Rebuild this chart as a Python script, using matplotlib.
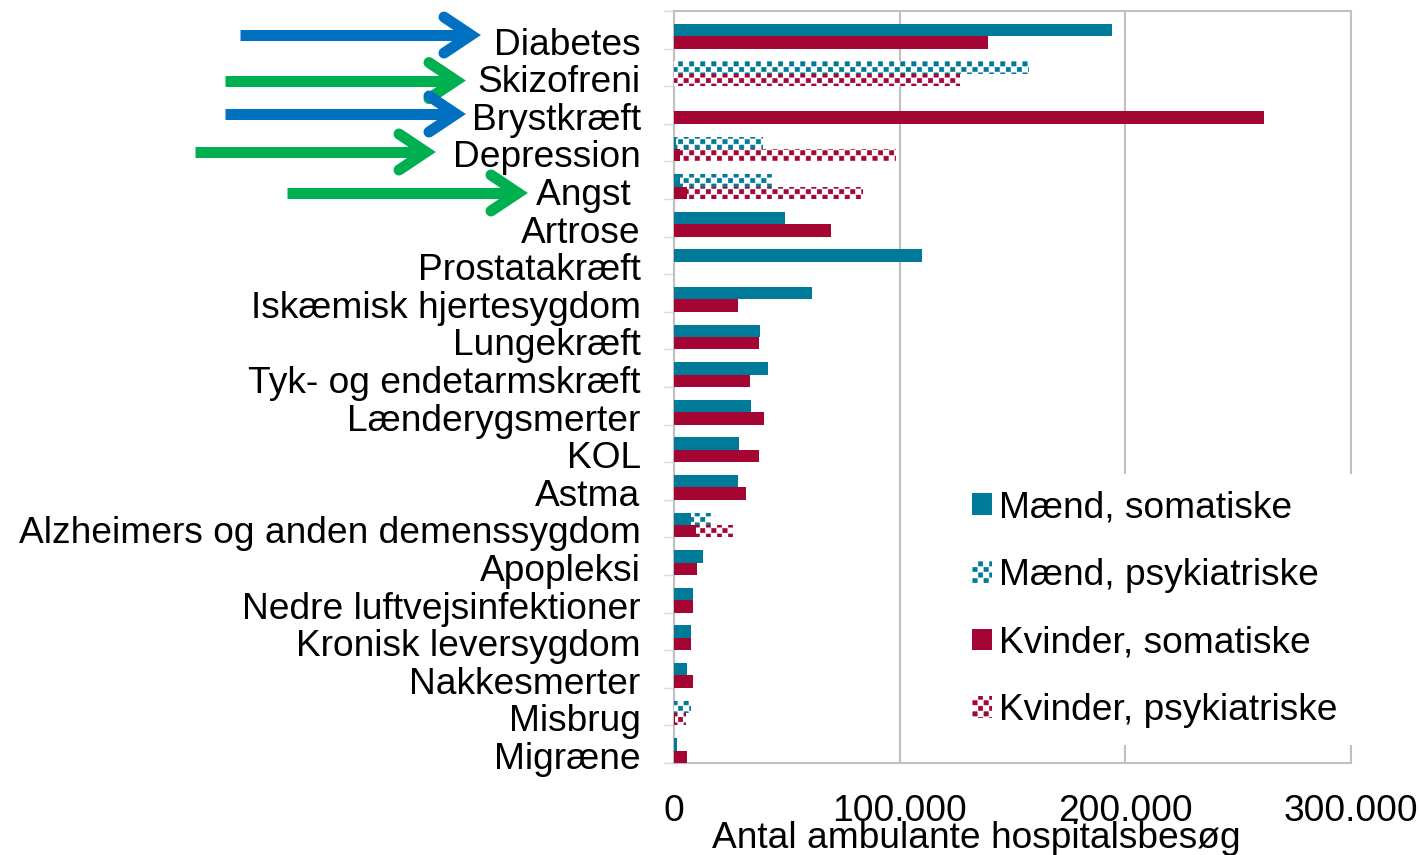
import numpy as np
import matplotlib
matplotlib.use("Agg")
import matplotlib.pyplot as plt
import matplotlib.hatch as mhatch
from matplotlib.path import Path
from matplotlib.lines import Line2D
from matplotlib.patches import Patch

# ---------------- data ----------------
categories = ["Diabetes", "Skizofreni", "Brystkræft", "Depression", "Angst ",
              "Artrose", "Prostatakræft", "Iskæmisk hjertesygdom", "Lungekræft",
              "Tyk- og endetarmskræft", "Lænderygsmerter", "KOL", "Astma",
              "Alzheimers og anden demenssygdom", "Apopleksi",
              "Nedre luftvejsinfektioner", "Kronisk leversygdom", "Nakkesmerter",
              "Misbrug", "Migræne"]
maend_somatiske = [194000, 0, 0, 1000, 2800, 49000, 110000, 61000, 38000, 41500,
                   34000, 28800, 28400, 7500, 13000, 8600, 7500, 5900, 0, 1300]
maend_psykiatriske = [0, 157400, 0, 38400, 40800, 0, 0, 0, 0, 0,
                      0, 0, 0, 8900, 0, 0, 0, 0, 7700, 0]
kvinder_somatiske = [139000, 0, 261600, 2500, 5600, 69600, 0, 28400, 37700, 33700,
                     39900, 37700, 31900, 9800, 10000, 8400, 7500, 8400, 400, 5800]
kvinder_psykiatriske = [0, 126800, 0, 95900, 78100, 0, 0, 0, 0, 0,
                        0, 0, 0, 16200, 0, 0, 0, 0, 4800, 0]
series_labels = ["Mænd, somatiske", "Mænd, psykiatriske",
                 "Kvinder, somatiske", "Kvinder, psykiatriske"]
xticks = [0, 100000, 200000, 300000]
xtick_labels = ["0", "100.000", "200.000", "300.000"]
xlabel = "Antal ambulante hospitalsbesøg"
arrow_categories = ["Diabetes", "Skizofreni", "Brystkræft", "Depression", "Angst "]
arrow_kinds = ["blue", "green", "blue", "green", "green"]

# ---------------- style ----------------
TEAL = "#007A99"
RED = "#A50533"
BLUE = "#0070C0"
GREEN = "#00B050"
GRID = "#C0C0C0"
FS = 26.7

plt.rcParams["font.family"] = ["Liberation Sans", "DejaVu Sans"]
plt.rcParams["hatch.linewidth"] = 0.4


# checkerboard hatch (replaces the '*' pattern)
class CheckerHatch(mhatch.HatchPatternBase):
    def __init__(self, hatch, density):
        self.n = 18 if "*" in hatch else 0
        self.num_vertices = (self.n * self.n // 2) * 5

    def set_vertices_and_codes(self, vertices, codes):
        c = 1.0 / self.n
        s = 0.78 * c
        verts = []
        for i in range(self.n):
            for j in range(self.n):
                if (i + j) % 2 == 0:
                    x0 = i * c + (c - s) / 2
                    y0 = j * c + (c - s) / 2
                    verts += [(x0, y0), (x0 + s, y0), (x0 + s, y0 + s),
                              (x0, y0 + s), (x0, y0)]
        vertices[:] = np.array(verts)
        nsq = len(verts) // 5
        codes[:] = np.tile([Path.MOVETO, Path.LINETO, Path.LINETO,
                            Path.LINETO, Path.CLOSEPOLY], nsq)


mhatch._hatch_types = [t for t in mhatch._hatch_types
                       if t is not mhatch.Stars] + [CheckerHatch]

fig = plt.figure(figsize=(14.22, 8.55), dpi=100)
W, H = 1422, 855
ax_l, ax_r, ax_t, ax_b = 674, 1351, 11, 763
ax = fig.add_axes([ax_l / W, 1 - ax_b / H, (ax_r - ax_l) / W, (ax_b - ax_t) / H])

n = len(categories)
y = np.arange(n)
h = 0.33
y_m = y + 0.005
y_k = y + 0.335

ax.barh(y_m, maend_somatiske, height=h, color=TEAL, linewidth=0, zorder=3)
ax.barh(y_m, maend_psykiatriske, left=maend_somatiske, height=h, color="white",
        edgecolor=TEAL, hatch="*", linewidth=0, zorder=3)
ax.barh(y_k, kvinder_somatiske, height=h, color=RED, linewidth=0, zorder=3)
ax.barh(y_k, kvinder_psykiatriske, left=kvinder_somatiske, height=h, color="white",
        edgecolor=RED, hatch="*", linewidth=0, zorder=3)

ax.set_xlim(0, 300000)
ax.set_ylim(n - 0.5, -0.5)

ax.set_xticks(xticks)
ax.set_xticklabels(xtick_labels, fontsize=FS)
ax.set_yticks(y + 0.3)
ax.set_yticklabels(categories, fontsize=FS)
ax.set_yticks(np.arange(n + 1) - 0.5, minor=True)
ax.tick_params(axis="y", which="major", length=0, pad=24)
ax.tick_params(axis="y", which="minor", length=7, width=1, color="#D9D9D9")
ax.tick_params(axis="x", which="major", length=0, pad=22)

ax.grid(axis="x", color=GRID, linewidth=1.5, zorder=0)
ax.set_axisbelow(True)
for s in ax.spines.values():
    s.set_color(GRID)
    s.set_linewidth(1.5)

ax.set_xlabel(xlabel, fontsize=FS)
ax.xaxis.set_label_coords((976 - ax_l) / (ax_r - ax_l), -0.077)

handles = [Patch(facecolor=TEAL, linewidth=0),
           Patch(facecolor="white", edgecolor=TEAL, hatch="*", linewidth=0),
           Patch(facecolor=RED, linewidth=0),
           Patch(facecolor="white", edgecolor=RED, hatch="*", linewidth=0)]
leg = ax.legend(handles, series_labels, fontsize=FS, loc="lower right",
                bbox_to_anchor=(1.005, 0.024), borderaxespad=0, frameon=True,
                fancybox=False, framealpha=1, edgecolor="none", facecolor="white",
                handlelength=0.52, handleheight=0.52, handletextpad=0.2,
                labelspacing=0.88, borderpad=0.45)
leg.set_zorder(5)

# arrows pointing at highlighted categories
arrow_color = {"blue": BLUE, "green": GREEN}
arrow_x0 = {"Diabetes": 240, "Skizofreni": 225, "Brystkræft": 225,
            "Depression": 195, "Angst ": 287}
arrow_tip = {"Diabetes": 480, "Skizofreni": 465, "Brystkræft": 465,
             "Depression": 435, "Angst ": 527}
arrow_dy = {"Diabetes": 0.14, "Skizofreni": 0.35, "Brystkræft": 0.24,
            "Depression": 0.25, "Angst ": 0.34}
lw_px = 11
lw = lw_px * 72 / 100
for cat, kind in zip(arrow_categories, arrow_kinds):
    i = categories.index(cat)
    ypix = ax.transData.transform((0, i + arrow_dy[cat]))[1]
    col = arrow_color[kind]
    tip = arrow_tip[cat] - 9
    x0 = arrow_x0[cat]
    xs = [x0 / W, (tip - 4) / W]
    ys = [ypix / H, ypix / H]
    fig.add_artist(Line2D(xs, ys, transform=fig.transFigure, color=col,
                          linewidth=lw, solid_capstyle="butt"))
    wx = [(tip - 27) / W, tip / W, (tip - 27) / W]
    wy = [(ypix + 18) / H, ypix / H, (ypix - 18) / H]
    fig.add_artist(Line2D(wx, wy, transform=fig.transFigure, color=col,
                          linewidth=lw, solid_capstyle="round",
                          solid_joinstyle="miter"))

fig.savefig("out.png", dpi=100)
